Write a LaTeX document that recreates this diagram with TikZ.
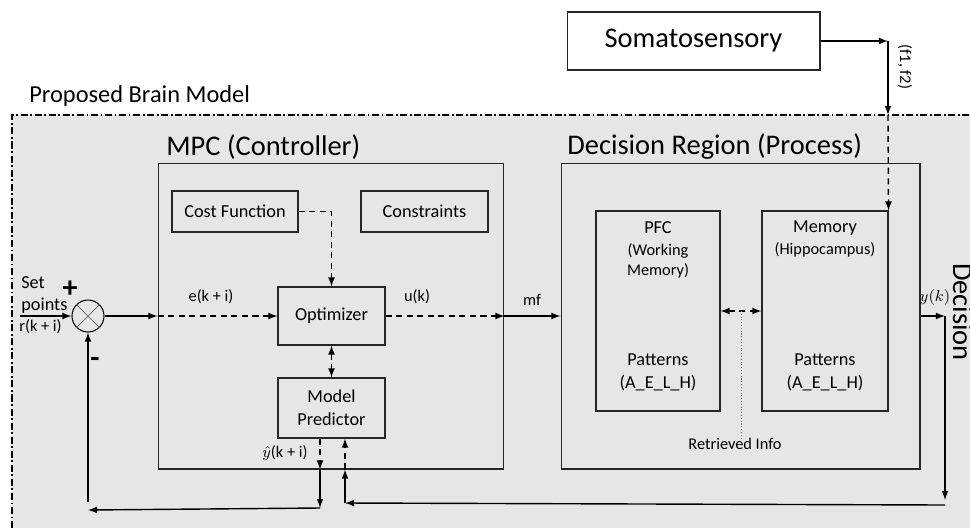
\documentclass[tikz,border=0pt]{standalone}
\usepackage{fontspec}
\setmainfont{Carlito}
\usepackage{amsmath}
\usepackage{xcolor}
\definecolor{bggray}{HTML}{E7E6E6}
\newcommand{\bigtxt}{\fontsize{16.2}{19}\selectfont}
\newcommand{\ttltxt}{\fontsize{13.9}{17}\selectfont}
\newcommand{\medtxt}{\fontsize{10.4}{13}\selectfont}
\newcommand{\smltxt}{\fontsize{9.3}{11}\selectfont}
\tikzset{
    blk/.style={draw=black!85, line width=0.6pt, inner sep=0pt, align=center},
    lbl/.style={inner sep=0pt, align=center},
    dsh/.style={dash pattern=on 3.5pt off 2.5pt},
    wire/.style={line width=0.8pt, ->, >=latex}}

\begin{document}
\begin{tikzpicture}[x=0.02cm, y=-0.02cm]
    \useasboundingbox (0,0) rectangle (970,528);

    % brain model area
    \fill[bggray] (12,115) rectangle (970,528);
    \draw[line width=0.6pt, dash pattern=on 4pt off 1.5pt on 1pt off 1.5pt] (12,528) -- (12,115) -- (970,115);
    \node[lbl, anchor=west, font=\ttltxt] (BM) at (29,96) {Proposed Brain Model};

    \node[blk, minimum width=5.06cm, minimum height=1.16cm, font=\bigtxt] (SOM) at (693.5,41) {Somatosensory};
    \node[blk, minimum width=6.92cm, minimum height=6.12cm] (MPC) at (331,316) {};
    \node[blk, minimum width=7.18cm, minimum height=6.12cm] (DR) at (740.5,316) {};
    \node[lbl, anchor=west, font=\bigtxt] (MPCt) at (166,147) {MPC (Controller)};
    \node[lbl, anchor=west, font=\bigtxt] (DRt) at (567,147) {Decision Region (Process)};

    \node[blk, minimum width=2.52cm, minimum height=0.82cm, font=\medtxt] (CF) at (235,211.5) {Cost Function};
    \node[blk, minimum width=2.54cm, minimum height=0.82cm, font=\medtxt] (CON) at (424.5,211.5) {Constraints};
    \node[blk, minimum width=2.14cm, minimum height=1.16cm, font=\medtxt] (OPT) at (331.5,316) {Optimizer};
    \node[blk, minimum width=2.14cm, minimum height=1.2cm, font=\medtxt] (MP) at (331.5,408) {Model\\Predictor};

    \node[blk, minimum width=2.48cm, minimum height=4cm] (PFC) at (658,311) {};
    \node[blk, minimum width=2.52cm, minimum height=4cm] (MEM) at (825,311) {};
    \node[lbl, font=\medtxt] (PFCa) at (658,228) {PFC};
    \node[lbl, font=\smltxt] (PFCb) at (658,261) {(Working\\Memory)};
    \node[lbl, font=\medtxt] (PFCc) at (658,372) {Patterns\\(A\_E\_L\_H)};
    \node[lbl, font=\medtxt] (MEMa) at (825,228) {Memory};
    \node[lbl, font=\smltxt] (MEMb) at (825,250) {(Hippocampus)};
    \node[lbl, font=\medtxt] (MEMc) at (825,372) {Patterns\\(A\_E\_L\_H)};
    \node[lbl, font=\smltxt] (RI) at (735,444) {Retrieved Info};

    % summing point
    \node[shape=circle, draw=black, line width=0.6pt, minimum size=0.64cm, inner sep=0pt] (SUM) at (88,316) {};
    \draw[black!60] (SUM.45) -- (SUM.225) (SUM.135) -- (SUM.315);
    \node[lbl, anchor=west, font=\medtxt, align=left] (SP) at (21,295) {Set\\points};
    \node[lbl, anchor=west, font=\smltxt] (RK) at (19,327) {r(k + i)};
    \node[lbl, font=\fontsize{17}{17}\selectfont\bfseries] (PL) at (70,289) {+};
    \node[lbl, font=\fontsize{17}{17}\selectfont\bfseries] (MI) at (95,362) {-};
    \coordinate (IN) at (20,316);

    % labels on the wires
    \node[lbl, font=\smltxt] (EK) at (211,297) {e(k + i)};
    \node[lbl, font=\smltxt] (UK) at (417,297) {u(k)};
    \node[lbl, font=\smltxt] (MF) at (532,300) {mf};
    \node[lbl, font=\smltxt] (YH) at (285,453) {$\hat{y}$(k + i)};
    \node[lbl, font=\smltxt] (YK) at (935,298) {$y(k)$};
    \node[lbl, font=\smltxt, rotate=-90] (FF) at (905,67) {(f1, f2)};
    \node[lbl, anchor=base, font=\bigtxt, rotate=-90] (DEC) at (953,312) {Decision};

    % wires
    \draw[wire] (IN) -- (SUM.west);
    \draw[wire] (SUM.east) -- (SUM -| MPC.west);
    \draw[wire, dsh] (SUM -| MPC.west) -- (OPT.west);
    \draw[wire, dsh] (CF.east) -- (CF.east -| OPT.north) -- (OPT.north);
    \draw[wire, dsh, <->] (OPT.south) -- (MP.north);
    \draw[wire, dsh] (OPT.east) -- (OPT -| MPC.east);
    \draw[wire] (OPT -| MPC.east) -- (OPT -| DR.west);
    \draw[wire, dsh, <->] (PFC.east) -- (MEM.west) coordinate[pos=0.52] (RC);
    \draw[black!55, densely dotted, line width=0.6pt] (RC) -- (RC |- RI.north) ++(0,-6);

    \coordinate (S1) at (888,41);
    \coordinate (S2) at (888,115);
    \draw[wire] (SOM.east) -- (S1);
    \draw[wire] (S1) -- (S2);
    \draw[wire, dsh] (S2) -- (MEM.north east);

    \coordinate (Y1) at (945,316);
    \coordinate (Y2) at (945,500);
    \coordinate (Y3) at (945,505);
    \coordinate (Y4) at (345,503);
    \draw[wire] (DR.east) -- (Y1);
    \draw[wire] (Y1) -- (Y2);
    \draw[wire] (Y3) -- (Y4);
    \draw[wire] (Y4) -- (Y4 |- MPC.south);
    \draw[wire, dsh] (Y4 |- MPC.south) -- (Y4 |- MP.south);

    \coordinate (P1) at (320,508);
    \coordinate (P2) at (88,510);
    \coordinate (P3) at (88,502);
    \draw[wire, dsh] (P1 |- MP.south) -- (P1 |- MPC.south);
    \draw[wire] (P1 |- MPC.south) -- (P1);
    \draw[wire] (P1) -- (P2);
    \draw[wire] (P3) -- (SUM.south);
\end{tikzpicture}
\end{document}
